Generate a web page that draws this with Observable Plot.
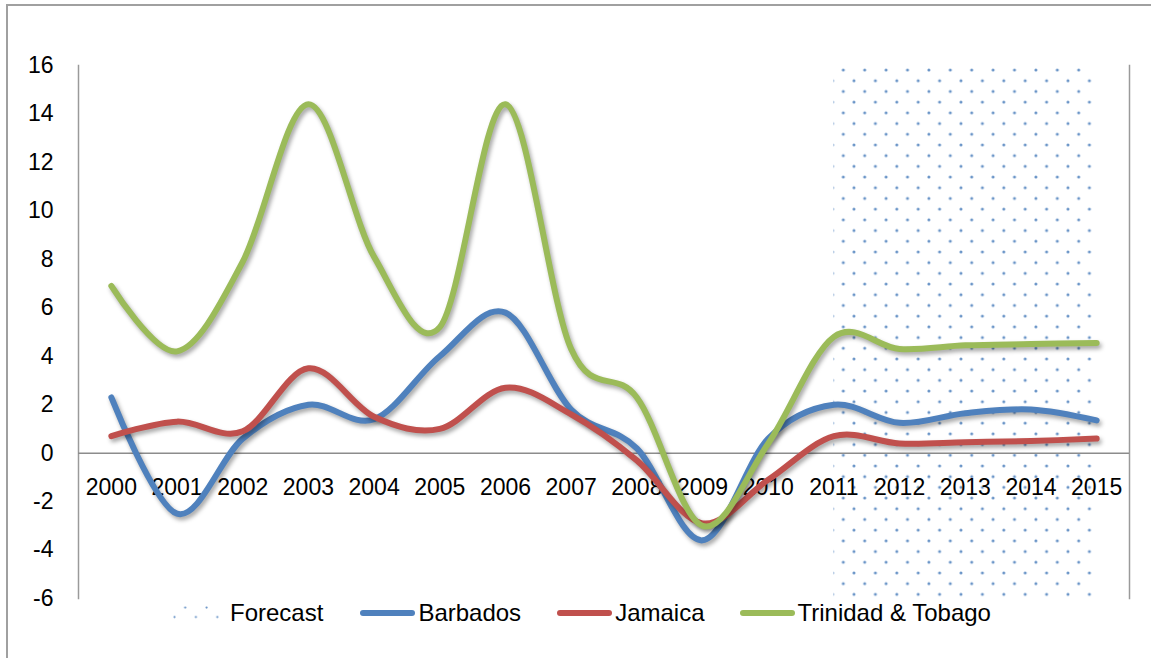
<!DOCTYPE html>
<html>
<head>
<meta charset="utf-8">
<script src="https://cdn.jsdelivr.net/npm/d3@7"></script>
<script src="https://cdn.jsdelivr.net/npm/@observablehq/plot@0.6"></script>
<style>
  html, body { margin: 0; padding: 0; background: #fff; overflow: hidden; }
  body { width: 1151px; height: 658px; position: relative; font-family: "Liberation Sans", Arial, sans-serif; }
  #border { position: absolute; left: 6px; top: 4px; width: 1200px; height: 700px;
            border-left: 2px solid #a0a0a0; border-top: 2px solid #a0a0a0; box-sizing: border-box; }
  #chart { position: absolute; left: 0; top: 0; }
  #legend { position: absolute; top: 599px; left: 173px; display: flex; align-items: center;
            font-size: 24px; color: #000; white-space: nowrap; }
  .item { display: flex; align-items: center; }
  .line { width: 55px; height: 6px; border-radius: 3px; margin-right: 3px; }
  .lbl { line-height: 28px; }
</style>
</head>
<body>
<svg width="0" height="0" style="position:absolute">
  <defs>
    <pattern id="dots" patternUnits="userSpaceOnUse" x="0" y="0" width="21.4" height="21.4">
      <circle cx="8.7" cy="5.8" r="1.5" fill="#4f81bd" fill-opacity="0.85"></circle>
      <circle cx="19.4" cy="16.5" r="1.5" fill="#4f81bd" fill-opacity="0.85"></circle>
    </pattern>
    <pattern id="dotsLegend" patternUnits="userSpaceOnUse" x="0" y="0" width="21.4" height="21.4">
      <circle cx="1.5" cy="11" r="1.1" fill="#4f81bd" fill-opacity="0.85"></circle>
      <circle cx="12.2" cy="1.5" r="1.1" fill="#4f81bd" fill-opacity="0.85"></circle>
    </pattern>
  </defs>
</svg>
<div id="border"></div>
<div id="chart"></div>
<div id="legend">
  <div class="item" style="margin-right:37px">
    <svg width="46" height="14" style="margin-right:11px"><rect width="46" height="14" fill="url(#dotsLegend)"></rect></svg>
    <span class="lbl">Forecast</span>
  </div>
  <div class="item" style="margin-right:36px"><div class="line" style="background:#4f81bd"></div><span class="lbl">Barbados</span></div>
  <div class="item" style="margin-right:35px"><div class="line" style="background:#c0504d"></div><span class="lbl">Jamaica</span></div>
  <div class="item"><div class="line" style="background:#9bbb59"></div><span class="lbl">Trinidad &amp; Tobago</span></div>
</div>
<script>
const years = [2000, 2001, 2002, 2003, 2004, 2005, 2006, 2007, 2008, 2009, 2010, 2011, 2012, 2013, 2014, 2015];
const barbados = [2.3, -2.5, 0.6, 2.0, 1.4, 4.0, 5.8, 1.8, 0.2, -3.6, 0.6, 2.0, 1.25, 1.65, 1.8, 1.35];
const jamaica  = [0.7, 1.3, 0.9, 3.5, 1.5, 1.0, 2.7, 1.6, -0.3, -2.9, -1.1, 0.7, 0.4, 0.45, 0.5, 0.6];
const trinidad = [6.9, 4.2, 7.9, 14.4, 8.1, 5.2, 14.4, 4.3, 2.3, -3.0, 0.4, 4.8, 4.3, 4.45, 4.5, 4.55];
const forecastYears = [2011, 2012, 2013, 2014, 2015];
const forecastLow = -6;
const forecastHigh = 16;
const yTicks = [-6, -4, -2, 0, 2, 4, 6, 8, 10, 12, 14, 16];
const seriesNames = ["Barbados", "Jamaica", "Trinidad & Tobago"];
const seriesColors = ["#4f81bd", "#c0504d", "#9bbb59"];
const seriesValues = [barbados, jamaica, trinidad];

const rows = [];
seriesNames.forEach((name, i) => years.forEach((yr, j) => rows.push({series: name, year: yr, value: seriesValues[i][j]})));

const lineMarks = seriesNames.map((name, i) =>
  Plot.line(rows.filter(r => r.series === name), {
    x: "year", y: "value", stroke: seriesColors[i], strokeWidth: 6,
    curve: "cardinal", strokeLinecap: "round", strokeLinejoin: "round"
  })
);

const chart = Plot.plot({
  width: 1151,
  height: 658,
  marginLeft: 78,
  marginRight: 22,
  marginTop: 65,
  marginBottom: 60,
  style: {fontFamily: "Liberation Sans, Arial, sans-serif", fontSize: "23px", color: "#000", background: "transparent"},
  x: {type: "point", domain: years, padding: 0.5, round: false, axis: null},
  y: {domain: [forecastLow, forecastHigh], ticks: yTicks, tickSize: 0, tickPadding: 25,
      tickFormat: d => String(d), label: null},
  marks: [
    Plot.areaY(forecastYears, {x: d => d, y1: () => forecastLow, y2: () => forecastHigh, fill: "url(#dots)"}),
    Plot.frame({anchor: "left", stroke: "#9a9a9a", strokeWidth: 1.5}),
    Plot.frame({anchor: "right", stroke: "#9a9a9a", strokeWidth: 1.5}),
    Plot.ruleY([0], {stroke: "#8c8c8c", strokeWidth: 1.5}),
    Plot.text(years, {x: d => d, y: () => 0, dy: 34, text: d => String(d), fontSize: 23, fill: "#000"}),
    ...lineMarks
  ]
});
document.getElementById("chart").appendChild(chart);
chart.querySelectorAll('g[aria-label="line"]').forEach(g => {
  g.style.filter = "drop-shadow(2px 3px 2px rgba(0,0,0,0.35))";
});
</script>
</body>
</html>
